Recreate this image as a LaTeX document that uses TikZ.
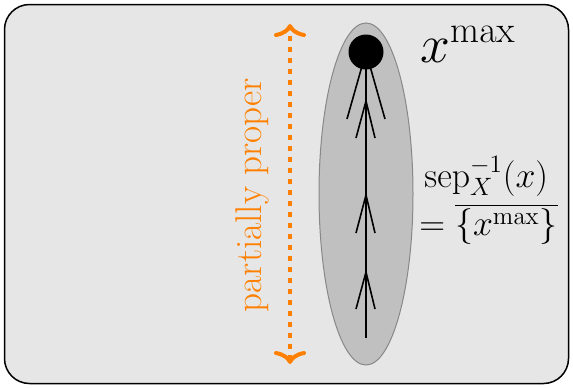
\RequirePackage{fix-cm}
\documentclass[tikz,border=0pt]{standalone}
\usetikzlibrary{arrows.meta}
\definecolor{bgray}{HTML}{E6E6E6}
\definecolor{egray}{HTML}{C0C0C0}
\definecolor{eborder}{HTML}{888888}
\definecolor{orng}{HTML}{FF8000}
\tikzset{
  frame/.style={draw=black, line width=0.75pt, fill=bgray, rounded corners=12.5pt},
  blob/.style={draw=eborder, line width=0.5pt, fill=egray},
  chain/.style={draw=black, line width=0.8pt},
  barb/.style={draw=black, line width=0.8pt},
  dotnode/.style={circle, fill=black, inner sep=0pt, minimum size=17.5pt},
  proparrow/.style={draw=orng, line width=2pt, dash pattern=on 2.4pt off 3.1pt,
     {Computer Modern Rightarrow[length=6.5pt,width=16pt,line width=2pt]}-{Computer Modern Rightarrow[length=6.5pt,width=16pt,line width=2pt]}},
  proplabel/.style={text=orng, font=\fontsize{18.6}{22}\selectfont, rotate=90, anchor=base, inner sep=0pt},
  mathlabel/.style={font=\fontsize{17.9}{22}\selectfont, anchor=base west, inner sep=0pt},
  biglabel/.style={font=\fontsize{26.8}{32}\selectfont, anchor=base west, inner sep=0pt}
}
\begin{document}
\begin{tikzpicture}[x=0.5pt, y=-0.5pt]
\useasboundingbox (0,0) rectangle (573,387);
\path[frame] (4.5,4.5) rectangle (568.5,383.5);
\path[blob] (366,194) ellipse [x radius=47, y radius=171];
\coordinate (bot) at (366,338);
\node[dotnode] (xm) at (366,52) {};
\draw[chain] (bot) -- (xm.center);
% arrow heads along the chain
\draw[barb] (347,119) -- (xm.center) -- (385,119);
\draw[barb] (356,138) -- (366,101) -- (375,138);
\draw[barb] (356,233) -- (366,195) -- (375,233);
\draw[barb] (356,309) -- (366,272) -- (375,309);
% orange double arrow
\coordinate (ptop) at (290,24);
\coordinate (pbot) at (290,364);
\draw[proparrow] (pbot) -- (ptop);
\node[proplabel] (pp) at (261,195) {partially proper};
% labels
\node[biglabel] (xmax) at (420,62) {$x^{\max}$};
\node[mathlabel] (sep1) at (424,187) {$\mathrm{sep}_X^{-1}(x)$};
\node[mathlabel] (sep2) at (419,235) {$=\overline{\{x^{\max}\}}$};
\end{tikzpicture}
\end{document}
